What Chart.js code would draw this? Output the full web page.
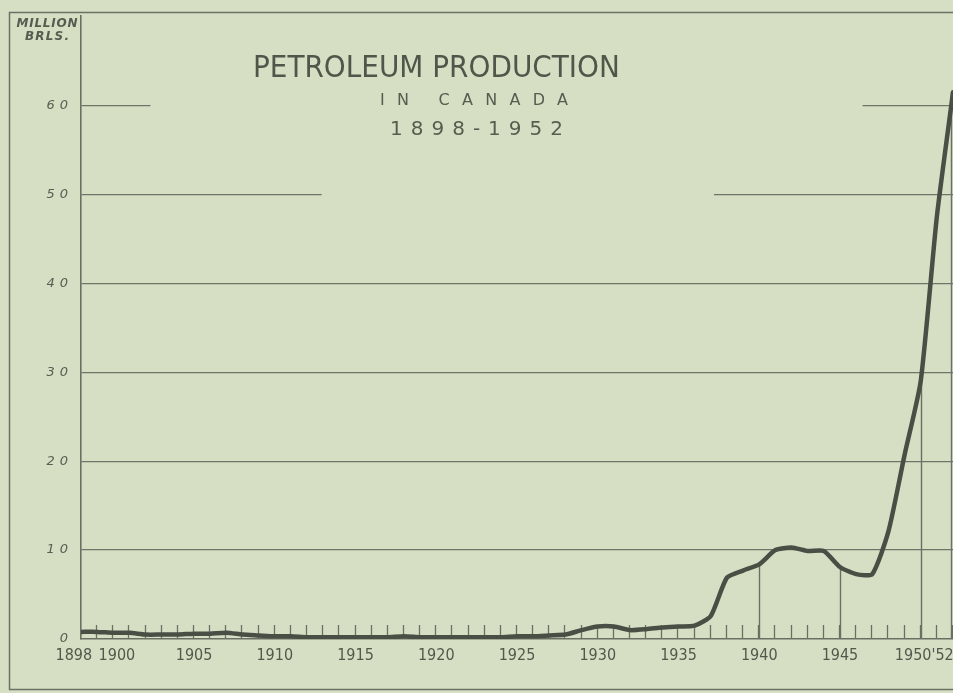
<!DOCTYPE html>
<html><head><meta charset="utf-8">
<script src="https://cdn.jsdelivr.net/npm/chart.js@4/dist/chart.umd.min.js"></script>
<style>html,body{margin:0;padding:0;background:#d6dfc4;overflow:hidden}canvas{display:block}</style>
</head><body>
<canvas id="c" width="953" height="693"></canvas>
<script>
// ---- data ----
const years = [1898,1899,1900,1901,1902,1903,1904,1905,1906,1907,
  1908,1909,1910,1911,1912,1913,1914,1915,1916,1917,
  1918,1919,1920,1921,1922,1923,1924,1925,1926,1927,
  1928,1929,1930,1931,1932,1933,1934,1935,1936,1937,
  1938,1939,1940,1941,1942,1943,1944,1945,1946,1947,
  1948,1949,1950,1951,1952];
const production = [0.8,0.8,0.7,0.7,0.5,0.5,0.5,0.6,0.6,0.7,
  0.5,0.4,0.3,0.3,0.2,0.2,0.2,0.2,0.2,0.2,
  0.3,0.2,0.2,0.2,0.2,0.2,0.2,0.3,0.3,0.4,
  0.5,1.0,1.4,1.4,1.0,1.1,1.3,1.4,1.5,2.6,
  6.9,7.7,8.4,10.0,10.3,9.9,9.9,8.1,7.3,7.3,
  12.1,20.7,29.0,47.5,61.5];
const xTickYears = [1898,1900,1905,1910,1915,1920,1925,1930,1935,1940,1945,1950];
const xTickLabels = ['1898\u2003','\u20021900','1905','1910','1915','1920','1925','1930','1935','1940','1945',"\u20021950'52"];
const yTickValues = [0,10,20,30,40,50,60];
const dropLineYears = [1940,1945,1950];
const titleText = 'PETROLEUM PRODUCTION';
const subtitleText = 'IN CANADA';
const periodText = '1898-1952';
const unitLines = ['MILLION','BRLS.'];

// ---- styling ----
const BG = '#d6dfc4';
const INK = '#565c4f';
const LINE = '#6a7063';
const CURVE = '#4a4f45';
const NARROW = '"Liberation Sans Narrow","DejaVu Sans Condensed","Roboto Condensed",sans-serif';

function spaced(ctx, text, x, y, width, font, align){
  ctx.save();
  ctx.font = font;
  ctx.letterSpacing = '0px';
  const w = ctx.measureText(text).width;
  const n = text.length;
  const sp = n > 1 ? Math.max(0,(width - w)/(n-1)) : 0;
  ctx.letterSpacing = sp + 'px';
  ctx.textAlign = 'left';
  ctx.textBaseline = 'alphabetic';
  let left = x;
  if (align === 'center') left = x - width/2;
  ctx.fillText(text, left, y);
  ctx.restore();
}

const decor = {
  id:'decor',
  beforeDraw(chart){
    const ctx = chart.ctx;
    ctx.save();
    ctx.fillStyle = BG;
    ctx.fillRect(0,0,chart.width,chart.height);
    ctx.restore();
    ctx.letterSpacing = '5px'; // y tick labels spacing
  },
  beforeDatasetsDraw(chart){
    const ctx = chart.ctx;
    ctx.letterSpacing = '0px';
    const xs = chart.scales.x, ys = chart.scales.y, ca = chart.chartArea;
    ctx.save();
    // gaps in the upper grid lines around the title
    const gaps = [{v:60,from:1902.3,to:1946.4},{v:50,from:1912.9,to:1937.2}];
    ctx.fillStyle = BG;
    gaps.forEach(g=>{
      const yy = ys.getPixelForValue(g.v);
      const a = xs.getPixelForValue(g.from), b = xs.getPixelForValue(g.to);
      ctx.fillRect(a, yy-3, b-a, 6);
    });
    // yearly tick marks rising from the axis
    ctx.strokeStyle = LINE;
    ctx.lineWidth = 1.3;
    ctx.beginPath();
    for (let yr = years[0]+1; yr <= years[years.length-1]; yr++){
      const px = Math.round(xs.getPixelForValue(yr)) - 0.5;
      ctx.moveTo(px, ca.bottom);
      ctx.lineTo(px, ca.bottom - 14);
    }
    ctx.stroke();
    // drop lines from the curve
    ctx.lineWidth = 1.4;
    ctx.beginPath();
    dropLineYears.forEach(yr=>{
      const i = years.indexOf(yr);
      const px = Math.round(xs.getPixelForValue(yr)) + 0.5;
      ctx.moveTo(px, ca.bottom);
      ctx.lineTo(px, ys.getPixelForValue(production[i]));
    });
    const li = years.length-1;
    const pr = ca.right - 1.5;
    ctx.moveTo(pr, ca.bottom);
    ctx.lineTo(pr, ys.getPixelForValue(production[li]));
    ctx.stroke();
    ctx.restore();
  },
  afterDraw(chart){
    const ctx = chart.ctx;
    ctx.letterSpacing = '0px';
    ctx.save();
    // outer frame
    ctx.strokeStyle = LINE;
    ctx.lineWidth = 1.5;
    ctx.beginPath();
    ctx.moveTo(chart.width, 12.5);
    ctx.lineTo(9.5, 12.5);
    ctx.lineTo(9.5, 689.5);
    ctx.lineTo(chart.width, 689.5);
    ctx.stroke();
    ctx.fillStyle = INK;
    spaced(ctx, unitLines[0], 47, 27, 61, 'italic bold 12px "DejaVu Sans",sans-serif', 'center');
    spaced(ctx, unitLines[1], 47, 40, 44, 'italic bold 12px "DejaVu Sans",sans-serif', 'center');
    ctx.fillStyle = '#50564a';
    spaced(ctx, titleText, 253, 77, 357, '31px ' + NARROW, 'left');
    ctx.fillStyle = INK;
    spaced(ctx, subtitleText, 380, 105, 188, '16px "DejaVu Sans",sans-serif', 'left');
    spaced(ctx, periodText, 390, 135, 173, '20px "DejaVu Sans",sans-serif', 'left');
    ctx.restore();
  }
};

const ctx = document.getElementById('c').getContext('2d');
new Chart(ctx, {
  type:'line',
  data:{datasets:[{
    data: years.map((y,i)=>({x:y, y:production[i]})),
    borderColor: CURVE, borderWidth: 4.5, pointRadius: 0, tension: 0.2,
    fill:false, borderJoinStyle:'round', borderCapStyle:'round'
  }]},
  options:{
    responsive:false, animation:false, devicePixelRatio:1,
    layout:{padding:{top:13,left:0,right:0,bottom:0}},
    plugins:{legend:{display:false}, tooltip:{enabled:false}, title:{display:false}},
    scales:{
      x:{
        type:'linear', min:years[0], max:years[years.length-1],
        afterBuildTicks:(s)=>{ s.ticks = xTickYears.map(v=>({value:v})); },
        afterFit:(s)=>{ s.height = 54; s.paddingLeft = 0; s.paddingRight = 0; },
        grid:{display:false, drawTicks:false},
        border:{display:true, color:LINE, width:1.6},
        ticks:{
          z:1, padding:7, autoSkip:false, maxRotation:0, color:'#52584b',
          font:{family:NARROW, size:16},
          callback:(v)=>{ const i = xTickYears.indexOf(v); return i>=0 ? xTickLabels[i] : ''; }
        }
      },
      y:{
        min:0, max:70.1,
        afterBuildTicks:(s)=>{ s.ticks = yTickValues.map(v=>({value:v})); },
        afterFit:(s)=>{ s.width = 81; },
        grid:{drawTicks:false, lineWidth:1.2,
          color:(c)=> c.tick && c.tick.value===0 ? 'rgba(0,0,0,0)' : '#6e7467'},
        border:{display:true, color:LINE, width:1.6},
        ticks:{padding:8, color:'#585e51',
          font:{family:'"DejaVu Sans",sans-serif', style:'italic', size:13},
          callback:(v)=> String(v)}
      }
    }
  },
  plugins:[decor]
});
</script>
</body></html>
